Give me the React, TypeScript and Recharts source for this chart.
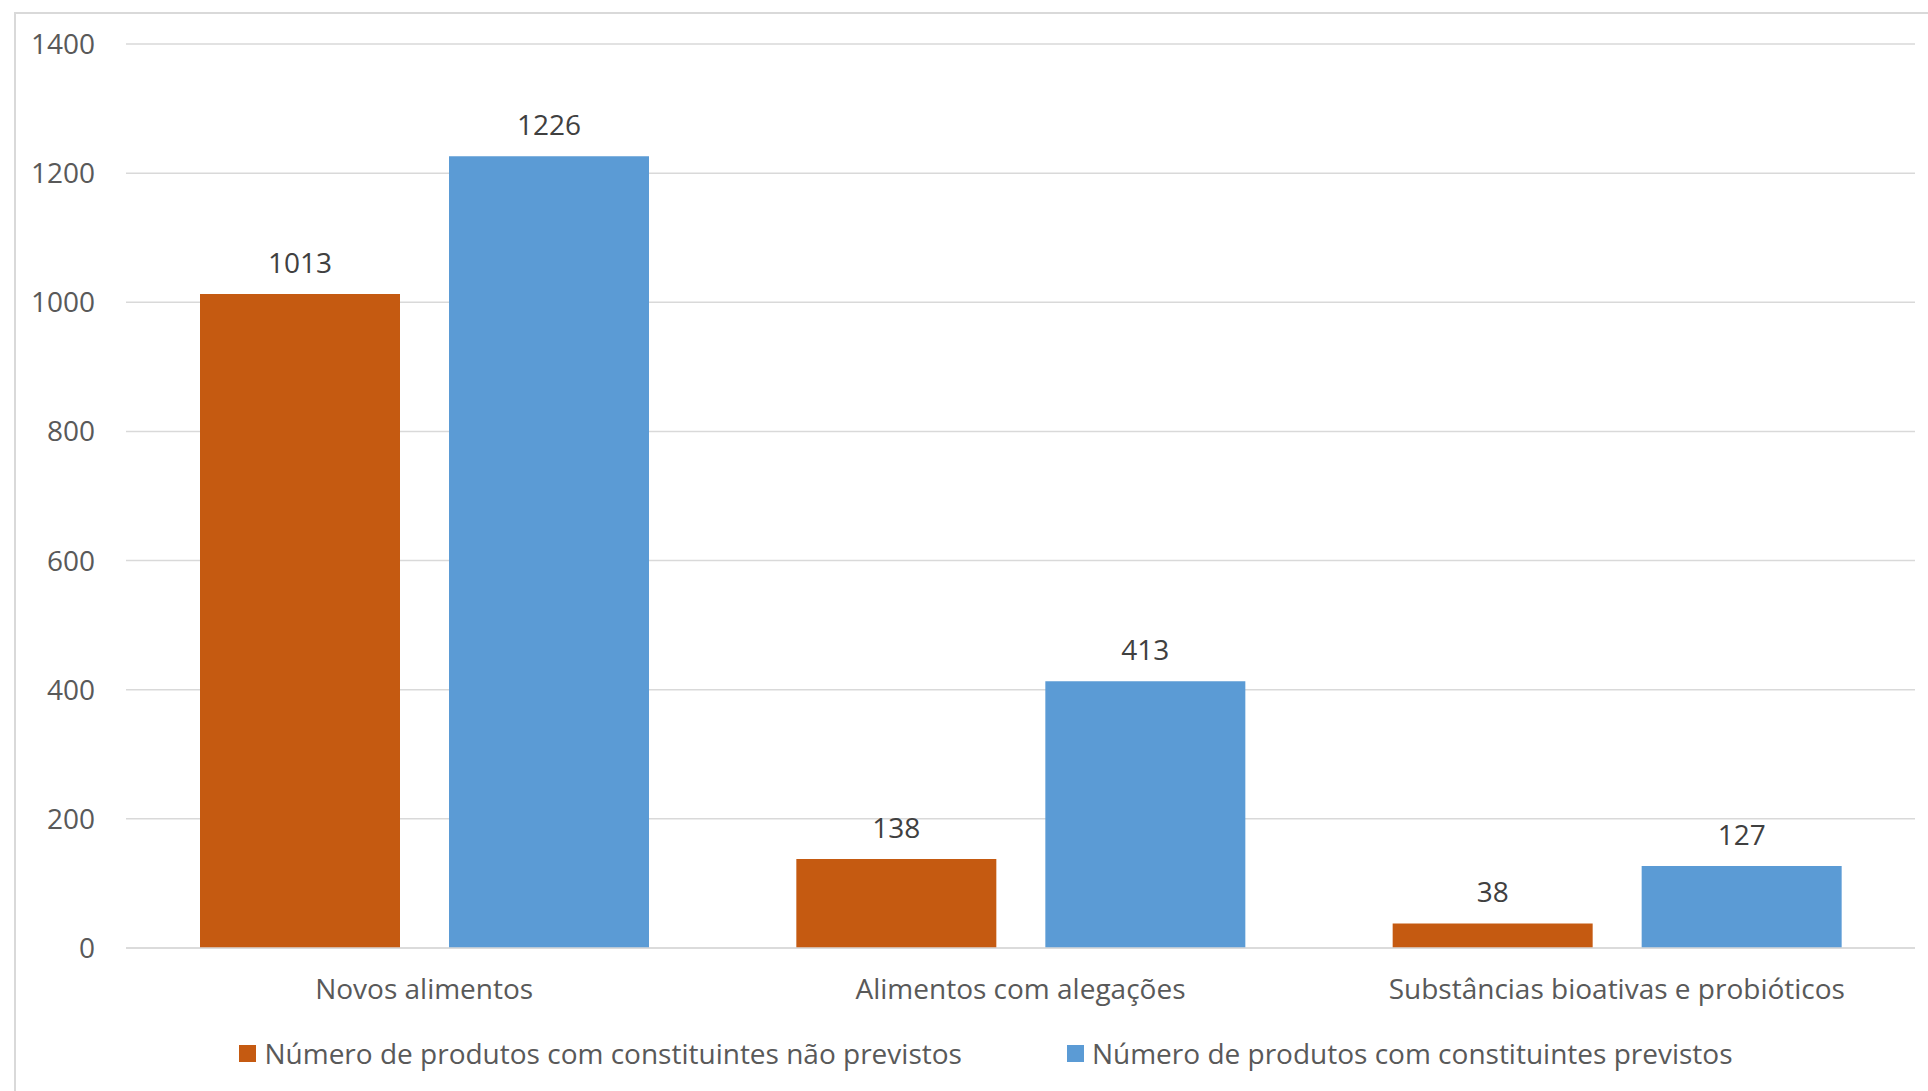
import { BarChart, Bar, XAxis, YAxis, CartesianGrid, LabelList } from "recharts";

// ─── Data ─────────────────────────────────────────────────────────────────────

const categories = ["Novos alimentos", "Alimentos com alegações", "Substâncias bioativas e probióticos"];
const naoPrevistos = [1013, 138, 38];
const previstos = [1226, 413, 127];
const yTicks = [0, 200, 400, 600, 800, 1000, 1200, 1400];

const seriesNames = [
  "Número de produtos com constituintes não previstos",
  "Número de produtos com constituintes previstos",
];
const seriesColors = ["#C55A11", "#5B9BD5"];

const data = categories.map((name, i) => ({
  name,
  naoPrevistos: naoPrevistos[i],
  previstos: previstos[i],
}));

const FONT = "'Open Sans', sans-serif";
const FS = 28;

export default function App() {
  return (
    <div
      style={{
        position: "fixed",
        left: 0,
        top: 0,
        width: 1928,
        height: 1091,
        background: "#fff",
        overflow: "hidden",
        fontFamily: FONT,
      }}
    >
      {/* chart frame, cropped on right and bottom */}
      <div
        style={{
          position: "absolute",
          left: 14,
          top: 12,
          width: 2000,
          height: 1200,
          borderLeft: "2px solid #D9D9D9",
          borderTop: "2px solid #D9D9D9",
        }}
      />
      <div style={{ position: "absolute", left: 0, top: 0 }}>
        <BarChart
          width={1928}
          height={1091}
          data={data}
          margin={{ top: 44, right: 13, left: 0, bottom: 113 }}
          barGap={49}
          barCategoryGap={74}
        >
          <CartesianGrid vertical={false} stroke="#D9D9D9" strokeWidth={1.5} />
          <XAxis
            dataKey="name"
            height={30}
            axisLine={{ stroke: "#D9D9D9", strokeWidth: 1.5 }}
            tickLine={false}
            tickSize={0}
            tickMargin={31}
            tick={{ fontSize: FS, fill: "#595959", fontFamily: FONT }}
            interval={0}
          />
          <YAxis
            width={126}
            domain={[0, 1400]}
            ticks={yTicks}
            axisLine={false}
            tickLine={false}
            tickSize={0}
            tickMargin={31}
            tick={{ fontSize: FS, fill: "#595959", fontFamily: FONT }}
          />
          <Bar dataKey="naoPrevistos" fill={seriesColors[0]} isAnimationActive={false}>
            <LabelList dataKey="naoPrevistos" position="top" offset={21} fill="#404040" fontSize={FS} fontFamily={FONT} />
          </Bar>
          <Bar dataKey="previstos" fill={seriesColors[1]} isAnimationActive={false}>
            <LabelList dataKey="previstos" position="top" offset={21} fill="#404040" fontSize={FS} fontFamily={FONT} />
          </Bar>
        </BarChart>
      </div>
      {/* legend */}
      <div
        style={{
          position: "absolute",
          left: 0,
          top: 1034,
          width: 1928,
          display: "flex",
          justifyContent: "center",
          fontSize: FS,
          color: "#595959",
          lineHeight: "38px",
          transform: "translateX(22px)",
        }}
      >
        {seriesNames.map((n, i) => (
          <div key={n} style={{ display: "flex", alignItems: "center", marginRight: i === 0 ? 105 : 0 }}>
            <span style={{ width: 17, height: 17, background: seriesColors[i], marginRight: 8, display: "inline-block" }} />
            <span>{n}</span>
          </div>
        ))}
      </div>
    </div>
  );
}
